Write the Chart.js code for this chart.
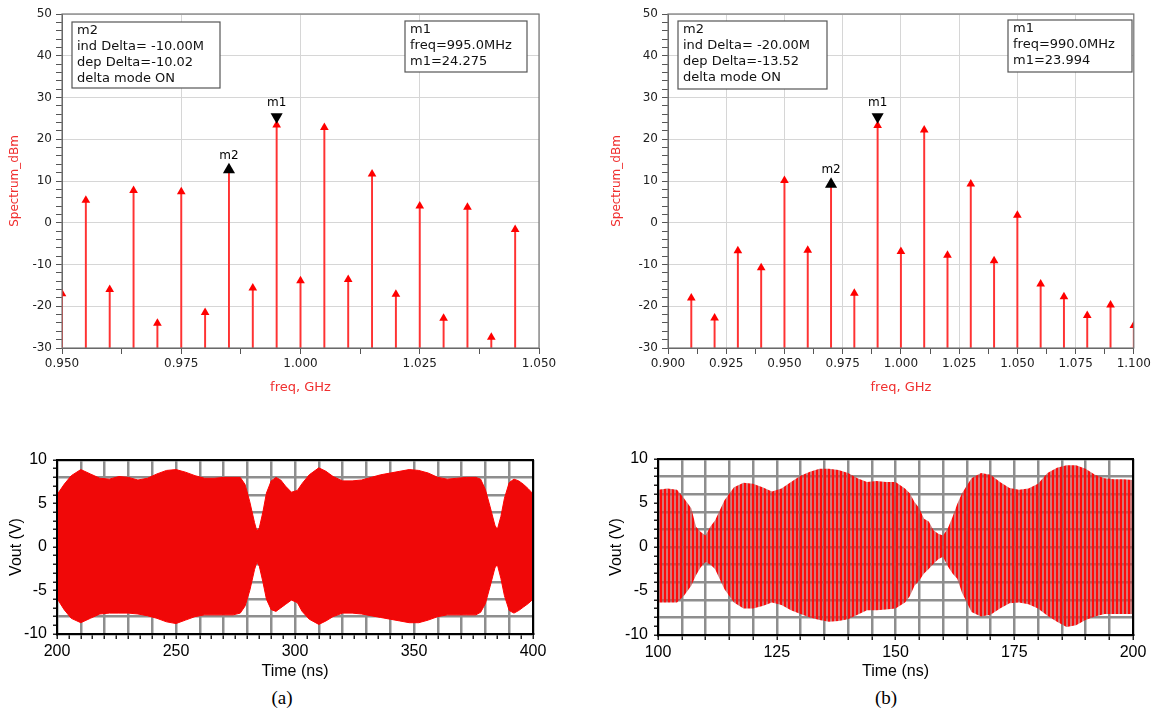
<!DOCTYPE html>
<html>
<head>
<meta charset="utf-8">
<script src="https://cdn.jsdelivr.net/npm/chart.js@4.4.0/dist/chart.umd.min.js"></script>
<style>
    body { margin: 0; width: 1154px; height: 715px; background: #fff; position: relative; overflow: hidden; }
    canvas { position: absolute; }
    .cap { position: absolute; font-family: 'Liberation Serif', serif; font-size: 19px; color: #000; transform: translate(-50%, -50%); }
</style>
</head>
<body>
<canvas id="specA" width="575" height="400" style="left:0;top:0"></canvas>
<canvas id="specB" width="574" height="400" style="left:580px;top:0"></canvas>
<canvas id="waveA" width="575" height="245" style="left:0;top:440px"></canvas>
<canvas id="waveB" width="554" height="245" style="left:600px;top:440px"></canvas>
<div class="cap" style="left:282px;top:698px">(a)</div>
<div class="cap" style="left:886px;top:698px">(b)</div>
<script>
// ---- data (a) spectrum ----
const freqA = [0.950, 0.955, 0.960, 0.965, 0.970, 0.975, 0.980, 0.985, 0.990, 0.995, 1.000, 1.005, 1.010, 1.015, 1.020, 1.025, 1.030, 1.035, 1.040, 1.045];
const levelA = [-17.0, 5.4, -16.0, 7.7, -24.1, 7.4, -21.5, 12.7, -15.6, 23.4, -13.9, 22.8, -13.6, 11.7, -17.1, 4.0, -22.9, 3.7, -27.4, -1.6];
const markFreqA = [0.995, 0.985];
const markLevelA = [25.4, 12.7];
const markNameA = ['m1', 'm2'];
const noteM2A = ['m2', 'ind Delta= -10.00M', 'dep Delta=-10.02', 'delta mode ON'];
const noteM1A = ['m1', 'freq=995.0MHz', 'm1=24.275'];

// ---- data (b) spectrum ----
const freqB = [0.910, 0.920, 0.930, 0.940, 0.950, 0.960, 0.970, 0.980, 0.990, 1.000, 1.010, 1.020, 1.030, 1.040, 1.050, 1.060, 1.070, 1.080, 1.090, 1.100];
const levelB = [-18.0, -22.8, -6.7, -10.8, 10.1, -6.6, 9.2, -16.9, 23.3, -6.9, 22.2, -7.8, 9.3, -9.1, 1.8, -14.7, -17.7, -22.2, -19.7, -24.6];
const markFreqB = [0.990, 0.970];
const markLevelB = [25.4, 9.2];
const markNameB = ['m1', 'm2'];
const noteM2B = ['m2', 'ind Delta= -20.00M', 'dep Delta=-13.52', 'delta mode ON'];
const noteM1B = ['m1', 'freq=990.0MHz', 'm1=23.994'];

// ---- data (a) time domain envelope ----
const timeA = [200, 203, 206, 210, 214, 218, 222, 226, 230, 234, 238, 242, 246, 250, 254, 258, 262, 266, 270, 274, 277, 279, 281, 283, 284, 285, 286.5, 288, 290, 292, 294, 296, 298.5, 301, 303, 306, 310, 313, 316, 320, 324, 328, 332, 336, 340, 344, 348, 352, 356, 360, 364, 368, 372, 376, 378, 380, 382, 384, 385, 386.5, 388, 390, 392, 394, 396, 398, 400];
const upperA = [6.0, 7.2, 8.2, 8.9, 8.4, 7.9, 7.8, 8.1, 8.0, 7.7, 7.9, 8.4, 8.8, 8.9, 8.6, 8.2, 7.9, 7.9, 8.0, 8.0, 8.0, 7.2, 5.2, 2.8, 1.8, 2.2, 4.0, 6.2, 7.6, 8.0, 7.7, 7.0, 6.3, 6.5, 7.3, 8.3, 9.1, 8.7, 8.1, 7.6, 7.6, 7.7, 8.0, 8.3, 8.5, 8.7, 8.9, 8.8, 8.5, 8.0, 7.8, 7.9, 8.0, 8.0, 7.8, 6.6, 4.6, 2.5, 2.0, 3.5, 5.6, 7.4, 7.8, 7.6, 7.2, 6.7, 6.1];
const lowerA = [-5.9, -7.2, -8.2, -8.7, -8.2, -7.7, -7.6, -7.6, -7.6, -7.7, -7.9, -8.2, -8.6, -8.8, -8.4, -8.0, -7.8, -7.8, -7.8, -7.8, -7.6, -6.8, -5.0, -2.6, -1.7, -2.2, -4.0, -6.0, -7.2, -7.4, -7.0, -6.6, -6.1, -6.4, -7.4, -8.3, -8.9, -8.5, -8.0, -7.6, -7.6, -7.7, -7.9, -8.1, -8.3, -8.5, -8.7, -8.7, -8.4, -8.0, -7.8, -7.8, -7.8, -7.8, -7.5, -6.5, -4.5, -2.4, -2.0, -3.6, -5.6, -7.3, -7.6, -7.3, -6.9, -6.5, -6.0];

// ---- data (b) time domain envelope ----
const timeB = [100, 102, 104, 105.5, 107, 108, 109, 110, 111, 112, 114, 116, 118, 120, 122, 124, 126, 128, 130, 132, 134, 136, 138, 140, 142, 144, 146, 148, 150, 152, 153, 154, 155, 156, 157, 158, 159, 160, 161, 162, 163, 164, 166, 168, 170, 172, 174, 176, 178, 180, 182, 184, 186, 188, 190, 192, 194, 196, 198, 200];
const upperB = [6.5, 6.65, 6.5, 5.5, 4.4, 2.3, 1.7, 1.3, 2.3, 3.0, 5.3, 6.8, 7.3, 7.2, 6.8, 6.3, 6.65, 7.4, 8.1, 8.55, 8.9, 8.9, 8.75, 8.4, 7.8, 7.4, 7.5, 7.4, 7.4, 6.65, 6.1, 5.1, 4.4, 3.2, 2.9, 1.9, 1.5, 1.3, 2.1, 3.4, 4.9, 6.1, 7.8, 8.4, 8.2, 7.4, 6.7, 6.5, 6.65, 7.2, 8.4, 9.0, 9.3, 9.3, 8.9, 8.2, 7.8, 7.7, 7.7, 7.6];
const lowerB = [-6.3, -6.3, -6.3, -5.5, -4.4, -3.2, -2.3, -1.7, -2.0, -2.5, -4.8, -6.3, -7.0, -7.0, -6.7, -6.3, -6.6, -7.2, -7.6, -8.0, -8.3, -8.5, -8.4, -8.2, -7.7, -7.2, -7.2, -7.1, -7.0, -6.3, -5.6, -4.4, -3.8, -3.0, -2.5, -1.9, -1.4, -1.1, -2.2, -3.0, -3.6, -5.2, -7.4, -7.9, -7.7, -7.0, -6.4, -6.3, -6.5, -7.0, -7.8, -8.5, -9.1, -8.9, -8.3, -7.9, -7.6, -7.6, -7.6, -7.6];

function isMult(v, step) {
    const r = v / step;
    return Math.abs(r - Math.round(r)) < 1e-6;
}

// box around the plot area
const framePlugin = {
    id: 'frame',
    afterDraw(chart, args, opts) {
        const a = chart.chartArea, c = chart.ctx;
        c.save();
        c.strokeStyle = opts.color;
        c.lineWidth = opts.width;
        c.strokeRect(a.left, a.top, a.right - a.left, a.bottom - a.top);
        c.restore();
    }
};

// m1 / m2 labels above the black markers
const markerTextPlugin = {
    id: 'markerText',
    afterDatasetsDraw(chart) {
        const c = chart.ctx;
        chart.data.datasets.forEach((ds, i) => {
            if (!ds.markerText) return;
            chart.getDatasetMeta(i).data.forEach((pt, j) => {
                c.save();
                c.font = '12px "DejaVu Sans"';
                c.fillStyle = '#000';
                c.textAlign = 'center';
                c.textBaseline = 'bottom';
                c.fillText(ds.markerText[j], pt.x, pt.y - 8);
                c.restore();
            });
        });
    }
};

// marker readout boxes
const notesPlugin = {
    id: 'notes',
    afterDraw(chart, args, opts) {
        const a = chart.chartArea, c = chart.ctx;
        (opts.boxes || []).forEach(b => {
            const x = a.left + b.x, y = a.top + b.y;
            c.save();
            c.fillStyle = '#fff';
            c.fillRect(x, y, b.w, b.h);
            c.strokeStyle = '#555';
            c.lineWidth = 1.2;
            c.strokeRect(x, y, b.w, b.h);
            c.font = '13px "DejaVu Sans"';
            c.fillStyle = '#111';
            c.textBaseline = 'middle';
            b.lines.forEach((t, k) => c.fillText(t, x + 5, y + 9 + k * 16));
            c.restore();
        });
    }
};

function spectrum(id, freqs, levels, mf, ml, mn, xmin, xmax, yw, padRight, titlePad, boxes) {
    return new Chart(document.getElementById(id), {
        type: 'bar',
        data: {
            datasets: [
                {
                    type: 'scatter',
                    data: mf.map((f, i) => ({ x: f, y: ml[i] })),
                    markerText: mn,
                    pointStyle: 'triangle',
                    pointRadius: 7,
                    pointRotation: [180, 0],
                    backgroundColor: '#000',
                    borderColor: '#000',
                    borderWidth: 0
                },
                {
                    type: 'scatter',
                    data: freqs.map((f, i) => ({ x: f, y: levels[i] })),
                    pointStyle: 'triangle',
                    pointRadius: 5,
                    backgroundColor: '#ff0000',
                    borderWidth: 0
                },
                {
                    type: 'bar',
                    data: freqs.map((f, i) => ({ x: f, y: [-30, levels[i]] })),
                    backgroundColor: 'rgb(255,50,50)',
                    barThickness: 1.3,
                    borderWidth: 0
                }
            ]
        },
        options: {
            responsive: false,
            animation: false,
            layout: { autoPadding: false, padding: { top: 14, right: padRight, left: 0, bottom: 0 } },
            scales: {
                x: {
                    type: 'linear',
                    min: xmin,
                    max: xmax,
                    offset: false,
                    afterFit: s => { s.height = 52; },
                    grid: {
                        offset: false,
                        color: c => isMult(c.tick.value, 0.025) ? '#d6d6d6' : 'rgba(0,0,0,0)',
                        tickColor: '#555',
                        tickLength: 6
                    },
                    border: { color: '#555', width: 1 },
                    ticks: {
                        stepSize: 0.0125,
                        maxTicksLimit: 100,
                        autoSkip: false,
                        maxRotation: 0,
                        padding: 3,
                        color: '#222',
                        font: { family: 'DejaVu Sans', size: 12 },
                        callback: v => isMult(v, 0.025) ? v.toFixed(3) : ''
                    },
                    title: {
                        display: true,
                        text: 'freq, GHz',
                        color: '#f03030',
                        font: { family: 'DejaVu Sans', size: 13 },
                        padding: 5
                    }
                },
                y: {
                    min: -30,
                    max: 50,
                    afterFit: s => { s.width = yw; },
                    grid: {
                        color: c => isMult(c.tick.value, 10) ? '#d6d6d6' : 'rgba(0,0,0,0)',
                        tickColor: '#555',
                        tickLength: 6
                    },
                    border: { color: '#555', width: 1 },
                    ticks: {
                        stepSize: 2,
                        maxTicksLimit: 100,
                        autoSkip: false,
                        padding: 4,
                        color: '#222',
                        font: { family: 'DejaVu Sans', size: 12 },
                        callback: v => isMult(v, 10) ? String(v) : ''
                    },
                    title: {
                        display: true,
                        text: 'Spectrum_dBm',
                        color: '#f03030',
                        font: { family: 'DejaVu Sans', size: 12 },
                        padding: titlePad
                    }
                }
            },
            plugins: {
                legend: { display: false },
                tooltip: { enabled: false },
                frame: { color: '#777', width: 1.2 },
                notes: { boxes: boxes }
            }
        },
        plugins: [framePlugin, markerTextPlugin, notesPlugin]
    });
}

spectrum('specA', freqA, levelA, markFreqA, markLevelA, markNameA, 0.95, 1.05, 62, 36, 8, [
    { x: 10, y: 8, w: 148, h: 66, lines: noteM2A },
    { x: 343, y: 7, w: 122, h: 51, lines: noteM1A }
]);
spectrum('specB', freqB, levelB, markFreqB, markLevelB, markNameB, 0.90, 1.10, 88, 13, 30, [
    { x: 10, y: 7, w: 149, h: 68, lines: noteM2B },
    { x: 340, y: 6, w: 124, h: 52, lines: noteM1B }
]);

// striped fill for the (b) waveform (vertical carrier lines)
const stripe = document.createElement('canvas');
stripe.width = 4;
stripe.height = 4;
const sc = stripe.getContext('2d');
sc.fillStyle = 'rgba(190,70,70,0.72)';
sc.fillRect(0, 0, 4, 4);
sc.fillStyle = '#ff0a0a';
sc.fillRect(0, 0, 2, 4);
const stripeFill = sc.createPattern(stripe, 'repeat');

function waveform(id, times, upper, lower, xmin, xmax, gridStep, labelStep, yw, padTop, padRight, xh, fill, edge) {
    return new Chart(document.getElementById(id), {
        type: 'line',
        data: {
            datasets: [
                {
                    data: times.map((t, i) => ({ x: t, y: upper[i] })),
                    borderColor: '#ff0000',
                    borderWidth: edge,
                    pointRadius: 0,
                    tension: 0,
                    fill: false
                },
                {
                    data: times.map((t, i) => ({ x: t, y: lower[i] })),
                    borderColor: '#ff0000',
                    backgroundColor: fill,
                    borderWidth: edge,
                    pointRadius: 0,
                    tension: 0,
                    fill: '-1'
                }
            ]
        },
        options: {
            responsive: false,
            animation: false,
            layout: { autoPadding: false, padding: { top: padTop, right: padRight, left: 0, bottom: 0 } },
            scales: {
                x: {
                    type: 'linear',
                    min: xmin,
                    max: xmax,
                    afterFit: s => { s.height = xh; },
                    grid: {
                        color: c => isMult(c.tick.value, gridStep) ? '#8e8e8e' : 'rgba(0,0,0,0)',
                        lineWidth: 2.5,
                        tickColor: '#222',
                        tickWidth: 1.5,
                        tickLength: 5
                    },
                    border: { color: '#000', width: 2 },
                    ticks: {
                        stepSize: 5,
                        maxTicksLimit: 100,
                        autoSkip: false,
                        maxRotation: 0,
                        padding: 3,
                        color: '#000',
                        font: { family: 'Liberation Sans', size: 16 },
                        callback: v => isMult(v, labelStep) ? String(v) : ''
                    },
                    title: {
                        display: true,
                        text: 'Time (ns)',
                        color: '#000',
                        font: { family: 'Liberation Sans', size: 16 },
                        padding: 4
                    }
                },
                y: {
                    min: -10,
                    max: 10,
                    afterFit: s => { s.width = yw; },
                    grid: {
                        color: c => isMult(c.tick.value, 2) ? '#8e8e8e' : 'rgba(0,0,0,0)',
                        lineWidth: 2.5,
                        tickColor: '#222',
                        tickWidth: 1.5,
                        tickLength: 4
                    },
                    border: { color: '#000', width: 2 },
                    ticks: {
                        stepSize: 1,
                        maxTicksLimit: 100,
                        autoSkip: false,
                        padding: 6,
                        color: '#000',
                        font: { family: 'Liberation Sans', size: 16 },
                        callback: v => isMult(v, 5) ? String(v) : ''
                    },
                    title: {
                        display: true,
                        text: 'Vout (V)',
                        color: '#000',
                        font: { family: 'Liberation Sans', size: 16 },
                        padding: 7
                    }
                }
            },
            plugins: {
                legend: { display: false },
                tooltip: { enabled: false },
                frame: { color: '#000', width: 2 }
            }
        },
        plugins: [framePlugin]
    });
}

waveform('waveA', timeA, upperA, lowerA, 200, 400, 10, 50, 57, 20, 42, 51, 'rgb(240,8,8)', 1);
waveform('waveB', timeB, upperB, lowerB, 100, 200, 5, 25, 58, 19, 21, 50, stripeFill, 0);
</script>
</body>
</html>
